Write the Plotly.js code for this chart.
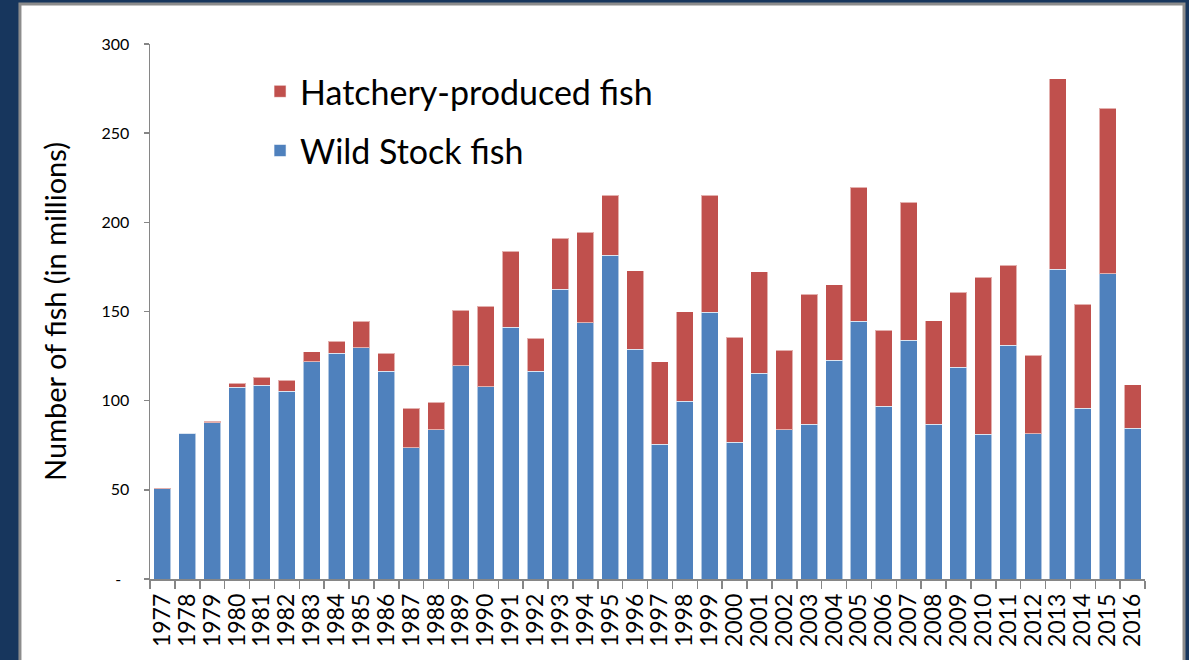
<!DOCTYPE html>
<html>
<head>
<meta charset="utf-8">
<script src="https://cdn.plot.ly/plotly-3.0.1.min.js"></script>
<style>
  html, body { margin: 0; padding: 0; background: #17365d; }
  #chart { width: 1189px; height: 660px; }
</style>
</head>
<body>
<div id="chart"></div>
<script>
const years = ["1977","1978","1979","1980","1981","1982","1983","1984","1985","1986",
  "1987","1988","1989","1990","1991","1992","1993","1994","1995","1996",
  "1997","1998","1999","2000","2001","2002","2003","2004","2005","2006",
  "2007","2008","2009","2010","2011","2012","2013","2014","2015","2016"];

const wildStock = [50.5, 81.8, 87.7, 107.5, 108.6, 105.2, 121.9, 126.6, 129.7, 116.5,
  73.5, 83.7, 119.7, 107.9, 141.1, 116.5, 162.4, 143.6, 181.5, 128.8,
  75.5, 99.6, 149.7, 76.7, 115.3, 83.6, 86.7, 122.8, 144.5, 97.0,
  134.0, 86.7, 118.7, 81.1, 131.2, 81.5, 173.7, 95.7, 171.2, 84.5];

const hatchery = [0.3, 0.3, 0.7, 2.2, 4.5, 6.2, 5.6, 6.7, 14.8, 10.1,
  22.2, 15.4, 31.1, 45.0, 42.8, 18.6, 28.6, 50.8, 33.7, 44.1,
  46.2, 50.3, 65.5, 58.8, 57.0, 44.6, 72.9, 42.1, 75.1, 42.6,
  77.4, 58.0, 42.1, 88.1, 44.7, 44.1, 106.7, 58.5, 92.7, 24.3];

const yTickVals = [0, 50, 100, 150, 200, 250, 300];
const yTickText = ["-\u00a0\u00a0", "50", "100", "150", "200", "250", "300"];

const FONT = "Lato, 'Open Sans', sans-serif";

const traces = [
  {
    type: "bar", name: "Wild Stock fish", x: years, y: wildStock,
    marker: { color: "#4f81bd", line: { color: "rgba(255,255,255,0.55)", width: 1 } },
    legendgroup: "w", legendrank: 2
  },
  {
    type: "bar", name: "Hatchery-produced fish", x: years, y: hatchery,
    marker: { color: "#c0504d", line: { color: "rgba(255,255,255,0.55)", width: 1 } },
    legendgroup: "h", legendrank: 1
  }
];

const layout = {
  width: 1189, height: 660,
  margin: { l: 150, r: 44, t: 44, b: 81, pad: 0 },
  paper_bgcolor: "#17365d",
  plot_bgcolor: "#ffffff",
  barmode: "stack",
  bargap: 0.32,
  font: { family: FONT, color: "#000000" },
  showlegend: true,
  legend: {
    x: 0.1106, xanchor: "left",
    y: 0.965, yanchor: "top",
    traceorder: "grouped",
    tracegroupgap: 12,
    bgcolor: "rgba(0,0,0,0)",
    font: { family: FONT, size: 34, color: "#000000" }
  },
  xaxis: {
    type: "category",
    tickmode: "array", tickvals: years, ticktext: years,
    tickangle: -90,
    tickson: "boundaries",
    ticks: "outside", ticklen: 8, tickcolor: "#868686", tickwidth: 1.5,
    ticklabelstandoff: 4,
    showline: true, linecolor: "#868686", linewidth: 1.5,
    showgrid: false, zeroline: false,
    tickfont: { family: FONT, size: 23, color: "#000000" },
    fixedrange: true
  },
  yaxis: {
    range: [0, 300],
    tickmode: "array", tickvals: yTickVals, ticktext: yTickText,
    ticks: "outside", ticklen: 5, tickcolor: "#868686", tickwidth: 1.5,
    ticklabelstandoff: 11,
    showline: true, linecolor: "#868686", linewidth: 1.5,
    showgrid: false, zeroline: false,
    tickfont: { family: FONT, size: 16, color: "#000000" },
    title: { text: "Number of fish (in millions)", font: { family: FONT, size: 29, color: "#000000" }, standoff: 26 },
    fixedrange: true
  },
  shapes: [
    {
      type: "rect", xref: "paper", yref: "paper", layer: "below",
      x0: -0.1307, x1: 1.0392, y0: -0.2, y1: 1.0748,
      fillcolor: "#ffffff",
      line: { color: "#8c8c8c", width: 3 }
    }
  ]
};

Plotly.newPlot("chart", traces, layout, { displayModeBar: false, staticPlot: true });
</script>
</body>
</html>
